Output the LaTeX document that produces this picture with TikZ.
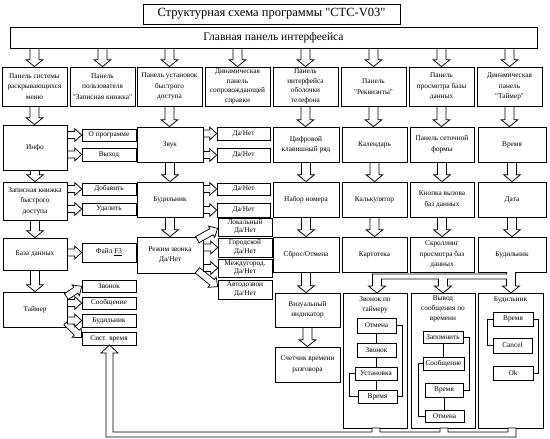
\documentclass[tikz,border=0pt]{standalone}
\usepackage{fontspec}
\setmainfont{Liberation Serif}[Ligatures=TeXOff]
\usetikzlibrary{calc}
\newcommand\fsz[2]{\fontsize{#1}{#2}\selectfont}
% box by corners: [opts]{name}{x1}{y1}{x2}{y2}{text}
\newcommand\bx[7][]{\node[box,minimum width={(#5-#3)*1pt},minimum height={(#6-#4)*1pt},#1] (#2) at ({(#3+#5)/2},{(#4+#6)/2}) {#7};}
% hollow block arrow: [head length]{start}{end}{shaft half}{head half}
\newcommand\barrow[5][7pt]{%
 \coordinate (bA) at #2; \coordinate (bB) at #3;
 \coordinate (bH) at ($(bB)!#1!(bA)$);
 \draw[arr] ($(bA)!#4!90:(bB)$) -- ($(bH)!#4!-90:(bA)$) -- ($(bH)!#5!-90:(bA)$) -- (bB) -- ($(bH)!#5!90:(bA)$) -- ($(bH)!#4!90:(bA)$) -- ($(bA)!#4!-90:(bB)$) -- cycle;}
\newcommand\darrow[2]{\barrow{#1}{#2}{4.5pt}{8.5pt}}
\newcommand\sarrow[2]{\barrow{#1}{#2}{3.5pt}{6.5pt}}
\begin{document}
\begin{tikzpicture}[x=1pt,y=-1pt,
 box/.style={draw,line width=0.75pt,fill=white,inner sep=0.5pt,align=center,font=\fsz{7.3}{10.5}},
 arr/.style={line width=0.75pt,draw,fill=white,line join=miter},
 ln/.style={line width=0.65pt},
 lbl/.style={align=center,inner sep=1pt,font=\fsz{7.3}{10}}]
\useasboundingbox[fill=white] (0,0) rectangle (550,439);

% title and main panel
\bx[font=\fsz{12.5}{14}]{title}{143}{4}{400}{24}{Структурная схема программы "CTC-V03"}
\bx[font=\fsz{11.5}{13}]{main}{10}{27}{537}{48}{Главная панель интерфеейса}

% top panels
\bx{p1}{2}{67}{67}{106}{Панель системы\\раскрывающихся\\меню}
\bx{p2}{70}{67}{135}{106}{Панель\\пользователя\\"Записная книжка"}
\bx{p3}{137}{67}{202}{106}{Панель установок\\быстрого\\доступа}
\bx[font=\fsz{7.3}{9.6}]{p4}{205}{67}{270}{106}{Динамическая\\панель\\сопровождающей\\справки}
\bx[font=\fsz{7.3}{9.6}]{p5}{273}{67}{338}{106}{Панель\\интерфейса\\оболочки\\телефона}
\bx{p6}{341}{67}{406}{106}{Панель\\"Реквизиты"}
\bx{p7}{409}{67}{474}{106}{Панель\\просмотра базы\\данных}
\bx{p8}{477}{67}{542}{106}{Динамическая\\панель\\"Таймер"}
\foreach \p in {p1,p2,p3,p4,p5,p6,p7,p8}{\darrow{(main.south -| \p.north)}{(\p.north)}}

% column 1
\bx{info}{3}{125}{67}{170}{Инфо}
\bx{zap}{3}{182}{67}{220}{Записная книжка\\быстрого\\доступа}
\bx{bd}{3}{238}{67}{270}{База данных}
\bx{tai}{3}{292}{67}{327}{Таймер}
\darrow{(p1.south)}{(p1.south |- info.north)}
\darrow{(info.south)}{(zap.north)}
\darrow{(zap.south)}{(bd.north)}
\darrow{(bd.south)}{(tai.north)}

\bx{oprog}{82}{129}{136}{141}{О программе}
\bx{vyh}{82}{148}{136}{161}{Выход}
\bx{dob}{82}{183}{136}{195}{Добавить}
\bx{udal}{82}{203}{136}{215}{Удалить}
\bx{ff}{82}{243}{136}{262}{Файл \underline{F3}}
\bx{tzv}{82}{280}{136}{292}{Звонок}
\bx{tsoob}{82}{297}{136}{309}{Сообщение}
\bx{tbud}{82}{314}{136}{327}{Будильник}
\bx{tsist}{82}{332}{136}{345}{Сист. время}
\sarrow{(info.east |- oprog.west)}{(oprog.west)}
\sarrow{(info.east |- vyh.west)}{(vyh.west)}
\sarrow{(zap.east |- dob.west)}{(dob.west)}
\sarrow{(zap.east |- udal.west)}{(udal.west)}
\sarrow{(bd.east |- ff.west)}{(ff.west)}
\sarrow{($(tai.north east)+(-1,5)$)}{($(tzv.south west)+(0,-6)$)}
\sarrow{($(tai.south east)+(-1,-5)$)}{($(tsist.north west)+(0,6)$)}
\sarrow{(tai.east |- tsoob.west)}{(tsoob.west)}
\sarrow{(tai.east |- tbud.west)}{(tbud.west)}

% column 3
\bx{zvuk}{137}{127}{203}{162}{Звук}
\bx{bud3}{137}{182}{203}{217}{Будильник}
\bx{rez}{137}{237}{203}{273}{Режим звонка\\Да/Нет}
\darrow{(p3.south)}{(p3.south |- zvuk.north)}
\darrow{(zvuk.south)}{(bud3.north)}
\darrow{(bud3.south)}{(rez.north)}
\bx{dn1}{217}{127}{270}{140}{Да/Нет}
\bx{dn2}{217}{148}{270}{162}{Да/Нет}
\bx{dn3}{217}{183}{270}{195}{Да/Нет}
\bx{dn4}{217}{203}{270}{217}{Да/Нет}
\sarrow{(zvuk.east |- dn1.west)}{(dn1.west)}
\sarrow{(zvuk.east |- dn2.west)}{(dn2.west)}
\sarrow{(bud3.east |- dn3.west)}{(dn3.west)}
\sarrow{(bud3.east |- dn4.west)}{(dn4.west)}
\bx[font=\fsz{7.3}{8.5}]{lok}{218}{218}{272}{236}{Локальный\\Да/Нет}
\bx[font=\fsz{7.3}{8.5}]{gor}{218}{238}{272}{257}{Городской\\Да/Нет}
\bx[font=\fsz{7.3}{8.5}]{mezh}{218}{259}{272}{277}{Междугород.\\Да/Нет}
\bx[font=\fsz{7.3}{8.5}]{avto}{218}{280}{272}{299}{Автодозвон\\Да/Нет}
\sarrow{($(rez.north east)+(-6,3)$)}{($(lok.south west)+(0,-8)$)}
\sarrow{($(rez.south east)+(-6,-3)$)}{($(avto.north west)+(0,7)$)}
\sarrow{(rez.east |- gor.west)}{(gor.west)}
\sarrow{(rez.east |- mezh.west)}{(mezh.west)}

% columns 5-8
\bx{c5a}{273}{127}{339}{162}{Цифровой\\клавишный ряд}
\bx{c5b}{273}{182}{339}{217}{Набор номера}
\bx{c5c}{273}{237}{339}{272}{Сброс/Отмена}
\bx{c6a}{342}{127}{407}{162}{Календарь}
\bx{c6b}{342}{182}{407}{217}{Калькулятор}
\bx{c6c}{342}{237}{407}{272}{Картотека}
\bx{c7a}{410}{127}{474}{162}{Панель сеточной\\формы}
\bx{c7b}{410}{182}{474}{217}{Кнопка вызова\\баз данных}
\bx{c7c}{410}{237}{474}{272}{Скроллинг\\просмотра баз\\данных}
\bx{c8a}{478}{127}{546}{162}{Время}
\bx{c8b}{478}{182}{546}{217}{Дата}
\bx{c8c}{478}{237}{546}{272}{Будильник}
\foreach \c in {5,6,7,8}{
 \darrow{(p\c.south)}{(p\c.south |- c\c a.north)}
 \darrow{(c\c a.south)}{(c\c b.north)}
 \darrow{(c\c b.south)}{(c\c c.north)}}

\bx{viz}{275}{293}{340}{327}{Визуальный\\индикатор}
\bx{sch}{275}{347}{340}{382}{Счетчик времени\\разговора}
\darrow{(c5c.south)}{(c5c.south |- viz.north)}
\darrow{(viz.south)}{(sch.north)}

% big boxes
\bx{bz}{343}{293}{407}{428}{}
\node[lbl,anchor=north,yshift=-2.5pt] at (bz.north) {Звонок по\\таймеру};
\bx{bv}{411}{293}{475}{428}{}
\node[lbl,anchor=north,yshift=-2pt] at (bv.north) {Вывод\\сообщения по\\времени};
\bx{bq}{478}{293}{543}{428}{}
\node[lbl,anchor=north,yshift=-2.5pt] at (bq.north) {Будильник};

% branching channel from Будильник
\draw[arr] (515.5,272) -- (515.5,286) -- (519.5,286) -- (511,293) -- (502.5,286) -- (506.5,286)
 -- (506.5,279) -- (447.5,279) -- (447.5,286) -- (451.5,286) -- (443,293) -- (434.5,286) -- (438.5,286)
 -- (438.5,279) -- (381.5,279) -- (381.5,286) -- (385.5,286) -- (377,293) -- (368.5,286) -- (372.5,286)
 -- (372.5,274) -- (506.5,274) -- (506.5,272);

% return channel to Сист. время
\draw[arr] (516,428) -- (516,437) -- (106,437) -- (106,353) -- (101,353) -- (109.5,345) -- (118,353) -- (113,353)
 -- (113,432) -- (372,432) -- (372,428) -- (380,428) -- (380,432) -- (440,432) -- (440,428) -- (448,428)
 -- (448,432) -- (508,432) -- (508,428) -- cycle;

% inside Звонок по таймеру
\bx{otm1}{357}{318}{396}{333}{Отмена}
\bx{zv1}{357}{343}{396}{357}{Звонок}
\bx{ust}{355}{367}{397}{380}{Установка}
\bx{vr1}{358}{390}{397}{403}{Время}
\draw[ln] (otm1.south) -- (otm1.south |- zv1.north);
\draw[ln] (zv1.south) -- (zv1.south |- ust.north);
\draw[ln] (ust.south) -- (ust.south |- vr1.north);
\draw[ln] (otm1.east) -- ($(otm1.east)+(6,0)$) |- (vr1.east);
\draw[ln] (ust.west) -- ($(ust.west)+(-5,0)$) |- (vr1.west);

% inside Вывод сообщения
\bx{zp}{423}{331}{463}{343}{Запомнить}
\bx{so}{423}{357}{464}{370}{Сообщение}
\bx{vr2}{425}{383}{463}{397}{Время}
\bx{otm2}{425}{410}{464}{422}{Отмена}
\draw[ln] (zp.south) -- (zp.south |- so.north);
\draw[ln] (vr2.south) -- (vr2.south |- otm2.north);
\draw[ln] (zp.east) -- ($(zp.east)+(6,0)$) |- (vr2.east);
\draw[ln] (so.west) -- ($(so.west)+(-4,0)$) |- (otm2.west);

% inside Будильник
\bx{vr3}{493}{312}{533}{326}{Время}
\bx{canc}{493}{338}{532}{353}{Cancel}
\bx{okb}{493}{366}{533}{380}{Ok}
\draw[ln] (vr3.west) -- ($(vr3.west)+(-5,0)$) |- (canc.west);
\draw[ln] (vr3.east) -- ($(vr3.east)+(5,0)$) |- (okb.east);
\end{tikzpicture}
\end{document}
